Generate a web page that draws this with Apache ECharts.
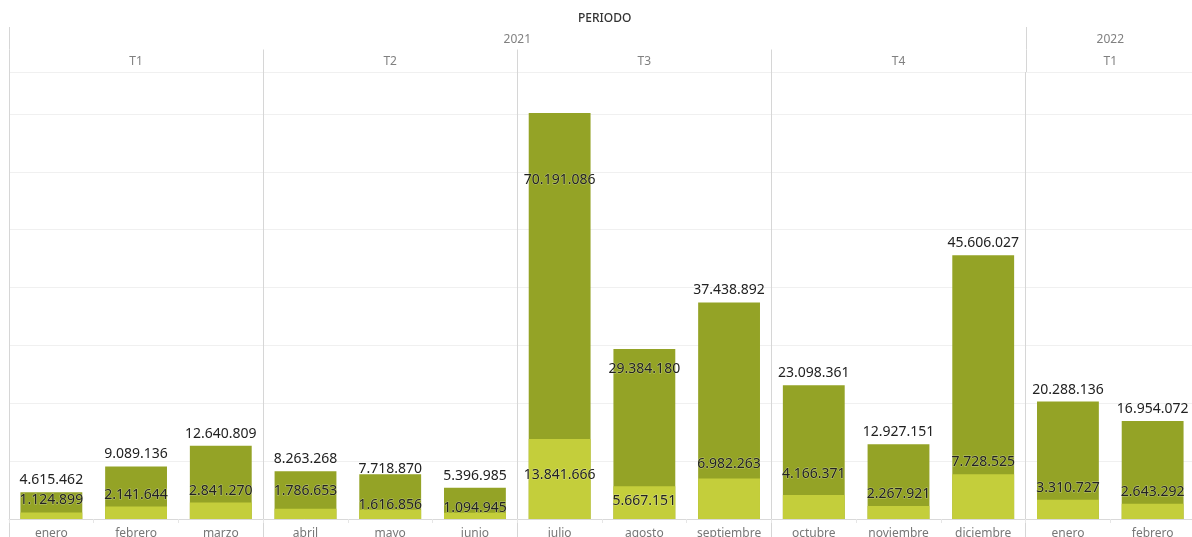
<!DOCTYPE html>
<html>
<head>
<meta charset="utf-8">
<script src="https://cdn.jsdelivr.net/npm/echarts@6/dist/echarts.min.js"></script>
<style>
html,body{margin:0;padding:0;background:#fff;}
#chart{width:1192px;height:537px;}
</style>
</head>
<body>
<div id="chart"></div>
<script>
// ---- data ----
const months = ['enero','febrero','marzo','abril','mayo','junio','julio','agosto','septiembre','octubre','noviembre','diciembre','enero','febrero'];
const totals = [4615462, 9089136, 12640809, 8263268, 7718870, 5396985, 70191086, 29384180, 37438892, 23098361, 12927151, 45606027, 20288136, 16954072];
const subValues = [1124899, 2141644, 2841270, 1786653, 1616856, 1094945, 13841666, 5667151, 6982263, 4166371, 2267921, 7728525, 3310727, 2643292];
const quarterLabels = ['T1','T2','T3','T4','T1'];
const quarterMonths = [3,3,3,3,2];
const years = ['2021','2022'];
const yearQuarters = [4,1];
const titleText = 'PERIODO';

// ---- helpers ----
const fmt = v => String(v).replace(/\B(?=(\d{3})+(?!\d))/g, '.');
const FONT = '"Noto Sans", "Open Sans", sans-serif';
const nM = months.length;

// header items: [start, end, row, label]
const headerItems = [];
let pos = 0;
quarterLabels.forEach((q, i) => { headerItems.push([pos, pos + quarterMonths[i], 0, q]); pos += quarterMonths[i]; });
let qi = 0, ys = 0;
years.forEach((y, i) => {
  let n = 0;
  for (let k = 0; k < yearQuarters[i]; k++) n += quarterMonths[qi++];
  headerItems.push([ys, ys + n, 1, y]);
  ys += n;
});

// label placement tweaks (Tableau-like collision avoidance)
const totalLabelAdj = {4: {distance: -2}, 6: {position: 'insideTop', distance: 60}, 7: {position: 'insideTop', distance: 13}};
const subLabelAdj = {3: {distance: 11}, 4: {distance: -2}, 5: {distance: -2}, 6: {position: 'inside', offset: [0, -4]}, 7: {position: 'inside', offset: [0, -2]}, 8: {distance: 8}, 9: {distance: 14}};

const labelBase = {
  show: true, position: 'top', distance: 5, color: '#222', fontSize: 14, fontFamily: FONT,
  textBorderColor: 'rgba(255,255,255,0.35)', textBorderWidth: 1,
  formatter: p => fmt(p.value)
};

const totalData = totals.map((v, i) => totalLabelAdj[i] ? {value: v, label: totalLabelAdj[i]} : v);
const subData = subValues.map((v, i) => subLabelAdj[i] ? {value: v, label: subLabelAdj[i]} : v);

const LEFT = 9, WIDTH = 1186;

const option = {
  animation: false,
  backgroundColor: '#fff',
  title: {
    text: titleText, left: 573, top: 8,
    textStyle: {fontSize: 12, fontWeight: 500, color: '#333', fontFamily: FONT}
  },
  grid: [
    {left: LEFT, width: WIDTH, top: 72, bottom: 18, outerBoundsMode: 'none', containLabel: false},   // main plot
    {left: LEFT, width: WIDTH, top: 27, height: 45, outerBoundsMode: 'none', containLabel: false},   // header
    {left: LEFT, width: WIDTH, top: 72, bottom: 0, outerBoundsMode: 'none', containLabel: false}     // quarter separators
  ],
  xAxis: [
    {
      type: 'category', gridIndex: 0, data: months,
      axisLine: {lineStyle: {color: '#d9d9d9'}},
      axisTick: {show: true, length: 4, lineStyle: {color: '#e6e6e6'}},
      axisLabel: {color: '#777', fontSize: 12, fontFamily: FONT, margin: 9}
    },
    {
      type: 'value', gridIndex: 2, min: 0, max: nM, interval: 3, position: 'top',
      axisLine: {show: true, lineStyle: {color: '#d6d6d6'}},
      axisTick: {show: false}, axisLabel: {show: false},
      splitLine: {show: true, lineStyle: {color: '#d6d6d6'}}
    },
    {type: 'value', gridIndex: 1, min: 0, max: nM, show: false}
  ],
  yAxis: [
    {
      type: 'value', gridIndex: 0, min: 0, max: 77260000, interval: 10000000,
      axisLine: {show: false}, axisTick: {show: false}, axisLabel: {show: false},
      splitLine: {lineStyle: {color: '#f0f0f0'}}
    },
    {type: 'value', gridIndex: 1, min: 0, max: 2, show: false},
    {type: 'value', gridIndex: 2, min: 0, max: 1, show: false}
  ],
  series: [
    {
      name: 'Total', type: 'bar', xAxisIndex: 0, yAxisIndex: 0,
      data: totalData, barWidth: '73%', barGap: '-100%',
      itemStyle: {color: '#94a326'},
      label: labelBase, z: 2
    },
    {
      name: 'Parcial', type: 'bar', xAxisIndex: 0, yAxisIndex: 0,
      data: subData, barWidth: '73%', barGap: '-100%',
      itemStyle: {color: '#c4ce3b'},
      label: labelBase, z: 3
    },
    {
      name: 'header', type: 'custom', xAxisIndex: 2, yAxisIndex: 1,
      data: headerItems.map(d => [d[0], d[1], d[2]]),
      silent: true,
      renderItem: (params, api) => {
        const d = headerItems[params.dataIndex];
        const a = api.coord([d[0], d[2]]);
        const b = api.coord([d[1], d[2] + 1]);
        const xl = Math.round(a[0]) + 0.5;
        return {
          type: 'group',
          children: [
            {type: 'line', shape: {x1: xl, y1: a[1], x2: xl, y2: b[1]}, style: {stroke: '#d6d6d6', lineWidth: 1}},
            {type: 'text', x: (a[0] + b[0]) / 2, y: (a[1] + b[1]) / 2 + 1,
             style: {text: d[3], align: 'center', verticalAlign: 'middle', fill: '#808080', font: '12px ' + FONT}}
          ]
        };
      }
    }
  ]
};

const chart = echarts.init(document.getElementById('chart'), null, {renderer: 'canvas'});
chart.setOption(option);
</script>
</body>
</html>
